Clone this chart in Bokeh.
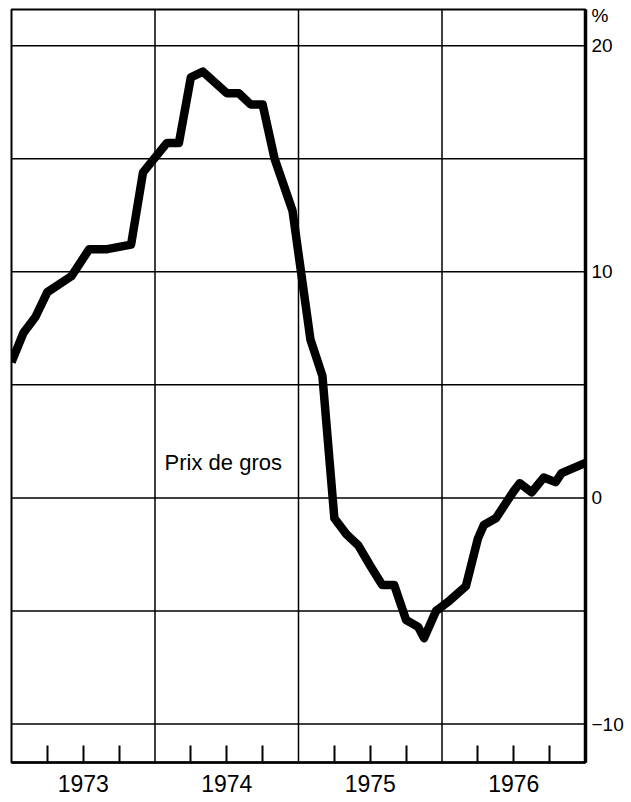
from bokeh.plotting import figure
from bokeh.models import Range1d, FixedTicker, LinearAxis, Span
from bokeh.core.properties import value
from bokeh.embed import file_html
from bokeh.resources import INLINE

# Months since January 1973 (vertex positions)
months = [0, 1, 2, 3, 5, 6.5, 8, 10, 11, 13, 14, 15, 16, 18, 19, 20, 21, 22, 23.5,
          25, 26, 27, 28, 29, 30, 31, 32, 33, 34, 34.5, 35.5, 36.5, 38, 39, 39.5,
          40.5, 42, 42.5, 43.5, 44.5, 45.5, 46, 48]
# Wholesale prices, % change
prix_de_gros = [6.0, 7.3, 8.0, 9.1, 9.8, 11.0, 11.0, 11.2, 14.4, 15.7, 15.7, 18.6, 18.85,
                17.9, 17.9, 17.4, 17.4, 15.0, 12.7, 7.0, 5.4, -0.9, -1.6, -2.1, -3.0,
                -3.85, -3.85, -5.4, -5.7, -6.2, -5.0, -4.6, -3.9, -1.8, -1.2, -0.9,
                0.3, 0.65, 0.25, 0.9, 0.7, 1.1, 1.55]

years = ["1973", "1974", "1975", "1976"]
year_mid = [6, 18, 30, 42]
year_bounds = [12, 24, 36]
quarter_ticks = [3, 6, 9, 15, 18, 21, 27, 30, 33, 39, 42, 45]
grid_values = [-10, -5, 0, 5, 10, 15, 20]
label_values = [-10, 0, 10, 20]
unit_label = "%"
unit_pos = 21.35
series_label = "Prix de gros"

FONT = "Liberation Sans"

p = figure(frame_width=574, frame_height=753, output_backend="svg",
           toolbar_location=None, x_range=Range1d(0, 48), y_range=Range1d(-11.7, 21.6),
           min_border_left=11, min_border_top=9, min_border_right=37, min_border_bottom=39,
           x_axis_location=None, y_axis_location=None)

p.background_fill_color = "white"
p.border_fill_color = "white"
p.outline_line_color = "black"
p.outline_line_width = 2

# grids
p.xgrid.visible = False
p.ygrid.visible = False
for yv in grid_values:
    p.add_layout(Span(location=yv, dimension="width", line_color="black", line_width=1.5))
for xv in year_bounds:
    p.add_layout(Span(location=xv, dimension="height", line_color="black", line_width=1.5))

# bottom axis: quarter ticks inside, year labels centred
xa = LinearAxis(ticker=FixedTicker(ticks=quarter_ticks))
overrides = {t: "" for t in quarter_ticks}
for m, y in zip(year_mid, years):
    overrides[m] = y
xa.major_label_overrides = overrides
xa.major_tick_in = 17
xa.major_tick_out = 0
xa.major_tick_line_width = 2
xa.major_tick_line_color = "black"
xa.minor_tick_line_color = None
xa.axis_line_width = 2.5
xa.axis_line_color = "black"
xa.major_label_standoff = 12
xa.major_label_text_font = FONT
xa.major_label_text_font_size = "23px"
xa.major_label_text_color = "black"
p.add_layout(xa, "below")

# right axis (values plus the % unit at the top)
ya = LinearAxis(ticker=FixedTicker(ticks=label_values + [unit_pos]))
ya.major_label_overrides = {unit_pos: unit_label}
ya.major_tick_in = 0
ya.major_tick_out = 0
ya.minor_tick_line_color = None
ya.axis_line_width = 3.5
ya.axis_line_color = "black"
ya.major_label_standoff = 6
ya.major_label_text_font = FONT
ya.major_label_text_font_size = "19px"
ya.major_label_text_color = "black"
p.add_layout(ya, "right")

p.line(months, prix_de_gros, line_color="black", line_width=8.5, line_join="round")

p.text(x=[12.8], y=[1.55], text=[series_label], text_font=value(FONT),
       text_font_size="22px", text_baseline="middle", text_align="left", text_color="black")

open("out.html", "w").write(file_html(p, INLINE))
